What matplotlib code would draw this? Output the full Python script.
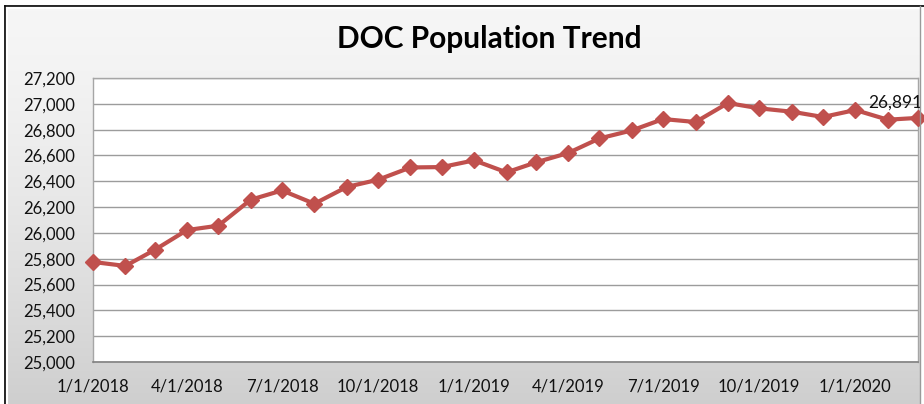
import numpy as np
import pandas as pd
import matplotlib
matplotlib.use("Agg")
import matplotlib.pyplot as plt
import matplotlib.dates as mdates
from matplotlib.ticker import FuncFormatter, MultipleLocator
from matplotlib.lines import Line2D

# ---- data ----
title = "DOC Population Trend"
start_date = "2018-01-01"
population = [25775, 25744, 25868, 26022, 26056, 26257, 26329, 26226, 26356,
              26412, 26507, 26510, 26562, 26469, 26546, 26619, 26732, 26794,
              26882, 26859, 27006, 26965, 26939, 26898, 26952, 26877, 26891]
dates = pd.date_range(start_date, periods=len(population), freq="MS")
last_label = "26,891"

plt.rcParams['font.family'] = ['Lato', 'DejaVu Sans']

W, H = 924, 404
fig = plt.figure(figsize=(W / 100, H / 100), dpi=100)
fig.patch.set_facecolor("white")

# background panel with vertical gradient
bg = fig.add_axes([5 / W, 0, (920 - 5) / W, (404 - 6) / H])
bg.set_axis_off()
grad = np.linspace(0, 1, 256).reshape(-1, 1)
top_c = np.array([0.965, 0.965, 0.965])
bot_c = np.array([0.81, 0.81, 0.81])
img = top_c + (bot_c - top_c) * (grad ** 1.4)
img = np.repeat(img[:, None, :], 2, axis=1).reshape(256, 2, 3)
bg.imshow(img, aspect="auto", extent=[0, 1, 1, 0])
bg.set_xlim(0, 1)
bg.set_ylim(1, 0)

# frame lines (top / left dark, right light gray)
fig.add_artist(Line2D([5 / W, 1], [1 - 6 / H, 1 - 6 / H], color="#111111", lw=1.3, transform=fig.transFigure))
fig.add_artist(Line2D([5 / W, 5 / W], [0, 1 - 6 / H], color="#111111", lw=1.3, transform=fig.transFigure))
fig.add_artist(Line2D([7 / W, 7 / W], [0, 1 - 8 / H], color="white", lw=1.5, transform=fig.transFigure))
fig.add_artist(Line2D([7 / W, 919 / W], [1 - 8 / H, 1 - 8 / H], color="white", lw=1.5, transform=fig.transFigure))
fig.add_artist(Line2D([920 / W, 920 / W], [0, 1 - 6 / H], color="#9a9a9a", lw=1.0, transform=fig.transFigure))

# plot area
ax = fig.add_axes([93 / W, (404 - 362) / H, (918 - 93) / W, (362 - 78) / H])
ax.set_facecolor("white")
ax.plot(dates, population, color="#c0504d", lw=3, marker="D", markersize=8,
        markeredgecolor="#c0504d", zorder=3, clip_on=False)

ax.set_xlim(dates[0], dates[-1])
ax.set_ylim(25000, 27200)
ax.yaxis.set_major_locator(MultipleLocator(200))
ax.yaxis.set_major_formatter(FuncFormatter(lambda v, p: f"{int(v):,}"))
ax.xaxis.set_major_locator(mdates.MonthLocator(bymonth=[1, 4, 7, 10]))
ax.xaxis.set_major_formatter(FuncFormatter(
    lambda v, p: f"{mdates.num2date(v).month}/1/{mdates.num2date(v).year}"))

ax.grid(axis="y", color="#9c9c9c", lw=1.0)
ax.set_axisbelow(True)
for s in ["top", "left", "right"]:
    ax.spines[s].set_color("#a6a6a6")
    ax.spines[s].set_linewidth(1.0)
ax.spines["bottom"].set_color("#808080")
ax.spines["bottom"].set_linewidth(1.2)
ax.tick_params(axis="y", length=0, pad=13, labelsize=12, labelcolor="#111111")
ax.tick_params(axis="x", length=0, pad=12, labelsize=12, labelcolor="#111111")

ax.annotate(last_label, xy=(dates[-1], population[-1]), xytext=(4, 15),
            textcoords="offset pixels", ha="right", va="center",
            fontsize=12.5, color="#111111", annotation_clip=False)

fig.text(489 / W, 1 - 39 / H, title, ha="center", va="center",
         fontsize=21.5, fontweight="bold", color="black")

fig.savefig("out.png", dpi=100)
